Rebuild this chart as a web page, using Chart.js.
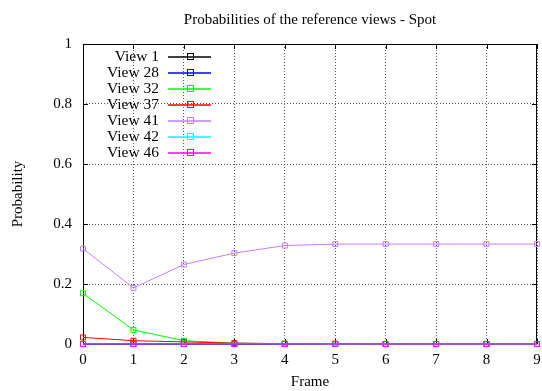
<!DOCTYPE html>
<html>
<head>
<meta charset="utf-8">
<script src="https://cdn.jsdelivr.net/npm/chart.js@4/dist/chart.umd.min.js"></script>
<style>
  html, body { margin: 0; padding: 0; background: #fff; }
  #wrap { width: 542px; height: 391px; }
</style>
</head>
<body>
<div id="wrap"><canvas id="probs"></canvas></div>
<script>
// data
var frames = [0, 1, 2, 3, 4, 5, 6, 7, 8, 9];
var viewNames = ['View 1', 'View 28', 'View 32', 'View 37', 'View 41', 'View 42', 'View 46'];
var view1  = [0, 0, 0, 0, 0, 0, 0, 0, 0, 0];
var view28 = [0, 0, 0, 0, 0, 0, 0, 0, 0, 0];
var view32 = [0.169, 0.047, 0.011, 0.003, 0.001, 0, 0, 0, 0, 0];
var view37 = [0.022, 0.011, 0.007, 0.003, 0.001, 0.001, 0, 0, 0, 0];
var view41 = [0.318, 0.187, 0.265, 0.303, 0.328, 0.333, 0.333, 0.333, 0.333, 0.333];
var view42 = [0, 0, 0, 0, 0, 0, 0, 0, 0, 0];
var view46 = [0, 0, 0, 0, 0, 0, 0, 0, 0, 0];
var yTicks = [0, 0.2, 0.4, 0.6, 0.8, 1];

var allSeries = [view1, view28, view32, view37, view41, view42, view46];
var colors = ['#000000', '#0000ff', '#00ff00', '#ff0000', '#c080ff', '#00ffff', '#ff00ff'];
var FONT = '"Liberation Serif", "Times New Roman", serif';

var datasets = allSeries.map(function (vals, i) {
    return {
        label: viewNames[i],
        data: vals.map(function (v, k) { return { x: frames[k], y: v }; }),
        borderColor: colors[i],
        backgroundColor: 'rgba(0,0,0,0)',
        pointBackgroundColor: 'rgba(0,0,0,0)',
        pointBorderColor: colors[i],
        pointStyle: 'rect',
        pointRadius: 3.5,
        pointBorderWidth: 1,
        borderWidth: 1,
        tension: 0,
        clip: false,
        order: allSeries.length - i   // later views drawn on top, like gnuplot
    };
});

// border, inward ticks and the gnuplot style key
var gnuplotLook = {
    id: 'gnuplotLook',
    beforeDatasetsDraw: function (chart) {
        var ctx = chart.ctx;
        var a = chart.chartArea;
        var xs = chart.scales.x, ys = chart.scales.y;
        ctx.save();
        ctx.setLineDash([]);
        ctx.strokeStyle = '#000';
        ctx.lineWidth = 1;
        ctx.strokeRect(Math.round(a.left) + 0.5, Math.round(a.top) + 0.5,
            Math.round(a.right - a.left) - 1, Math.round(a.bottom - a.top));
        ctx.beginPath();
        frames.forEach(function (f) {
            var px = Math.round(xs.getPixelForValue(f)) + 0.5;
            ctx.moveTo(px, a.bottom); ctx.lineTo(px, a.bottom - 5);
            ctx.moveTo(px, a.top); ctx.lineTo(px, a.top + 5);
        });
        yTicks.forEach(function (t) {
            var py = Math.round(ys.getPixelForValue(t)) + 0.5;
            ctx.moveTo(a.left, py); ctx.lineTo(a.left + 5, py);
            ctx.moveTo(a.right, py); ctx.lineTo(a.right - 5, py);
        });
        ctx.stroke();
        ctx.restore();
    },
    afterDraw: function (chart) {
        var ctx = chart.ctx;
        ctx.save();
        ctx.font = '15.5px ' + FONT;
        ctx.textAlign = 'right';
        ctx.textBaseline = 'middle';
        viewNames.forEach(function (name, i) {
            var y = 57 + i * 16;
            ctx.fillStyle = '#000';
            ctx.fillText(name, 159, y);
            ctx.strokeStyle = colors[i];
            ctx.lineWidth = 1.5;
            ctx.beginPath();
            ctx.moveTo(168, y);
            ctx.lineTo(211, y);
            ctx.stroke();
            ctx.lineWidth = 1;
            ctx.strokeRect(187.5, y - 3.5, 6, 6);
        });
        ctx.restore();
    }
};

new Chart(document.getElementById('probs'), {
    type: 'line',
    data: { datasets: datasets },
    options: {
        responsive: true,
        maintainAspectRatio: false,
        animation: false,
        layout: { padding: { left: 0, right: 1, top: 0, bottom: 0 } },
        plugins: {
            legend: { display: false },
            tooltip: { enabled: false },
            title: {
                display: true,
                text: 'Probabilities of the reference views - Spot',
                color: '#000',
                fullSize: false,
                font: { family: FONT, size: 15, weight: 'normal' },
                padding: { top: 11, bottom: 15 }
            }
        },
        scales: {
            x: {
                type: 'linear',
                min: 0,
                max: 9,
                afterFit: function (s) { s.height = 47; s.paddingLeft = 0; s.paddingRight = 0; },
                ticks: {
                    stepSize: 1,
                    color: '#000',
                    padding: 7,
                    maxRotation: 0,
                    autoSkip: false,
                    font: { family: FONT, size: 15 }
                },
                grid: { color: '#555', tickLength: 0, lineWidth: 1 },
                border: { display: false, dash: [1, 2] },
                title: {
                    display: true,
                    text: 'Frame',
                    color: '#000',
                    font: { family: FONT, size: 15 },
                    padding: { top: 0, bottom: 0 }
                }
            },
            y: {
                min: 0,
                max: 1,
                afterFit: function (s) { s.width = 83; s.paddingTop = 0; s.paddingBottom = 0; },
                ticks: {
                    stepSize: 0.2,
                    color: '#000',
                    padding: 11,
                    font: { family: FONT, size: 15 },
                    callback: function (v) { return String(+v.toFixed(1)); }
                },
                grid: { color: '#555', tickLength: 0, lineWidth: 1 },
                border: { display: false, dash: [1, 2] },
                title: {
                    display: true,
                    text: 'Probability',
                    color: '#000',
                    font: { family: FONT, size: 15 },
                    padding: { top: 9, bottom: 0 }
                }
            }
        }
    },
    plugins: [gnuplotLook]
});
</script>
</body>
</html>
